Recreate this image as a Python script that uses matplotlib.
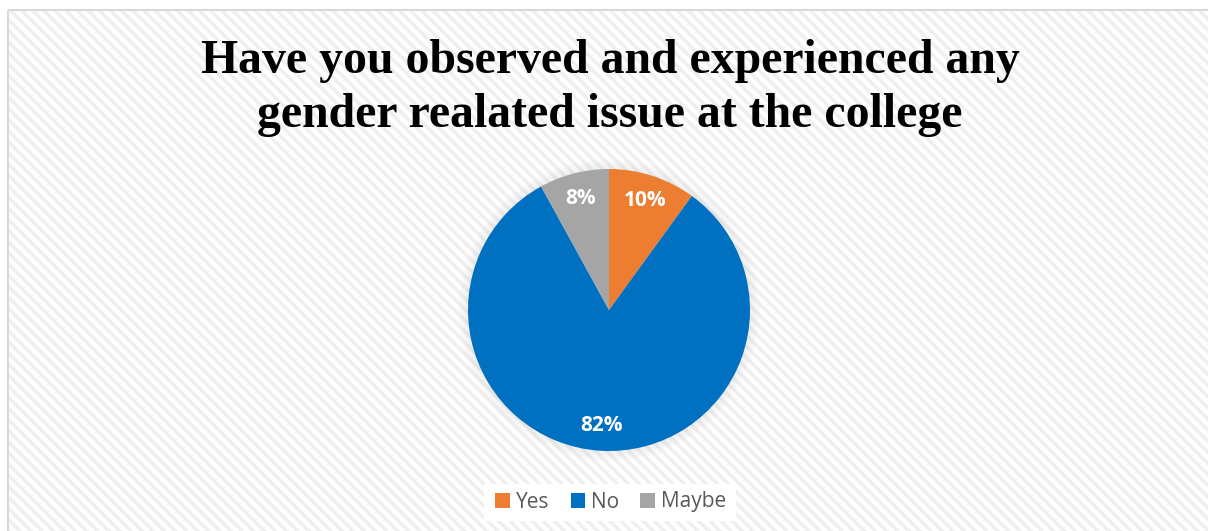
import matplotlib.pyplot as plt
from matplotlib.patches import Rectangle, Circle

# Survey answers
labels = ['Yes', 'No', 'Maybe']
shares = [10, 82, 8]
colors = ['#ED7D31', '#0070C0', '#A5A5A5']

W, H = 1208, 531
fig = plt.figure(figsize=(W / 100, H / 100), dpi=100)
fig.patch.set_facecolor('white')

# background panel with faint diagonal stripes
bg = fig.add_axes([0, 0, 1, 1])
bg.set_xlim(0, W)
bg.set_ylim(H, 0)
bg.axis('off')
plt.rcParams['hatch.linewidth'] = 2.5
bg.add_patch(Rectangle((8, 10), W, H, facecolor='white', edgecolor='#efefef',
                       hatch='\\\\\\', lw=0))
bg.add_patch(Rectangle((8, 10), W, H, facecolor='none', edgecolor='#d9d9d9', lw=1.5))

# soft shadow around the pie
for i in range(4):
    bg.add_patch(Circle((609, 310), 141 + 10 - i * 2.5, color='#9a9a9a', alpha=0.03, lw=0))

bg.text(610, 61, 'Have you observed and experienced any', ha='center', va='center',
        family='Liberation Serif', fontweight='bold', fontsize=34.4)
bg.text(610, 115, 'gender realated issue at the college', ha='center', va='center',
        family='Liberation Serif', fontweight='bold', fontsize=34.4)

# legend box
bg.add_patch(Rectangle((484, 484), 252, 37, facecolor='white', lw=0))

r = 141
ax = fig.add_axes([(609 - r) / W, (H - 310 - r) / H, 2 * r / W, 2 * r / H])
wedges, texts, autotexts = ax.pie(shares, colors=colors, startangle=90, counterclock=False,
                                  autopct='%d%%', pctdistance=0.82, radius=1,
                                  wedgeprops=dict(linewidth=0))
for t in autotexts:
    t.set_color('white')
    t.set_fontsize(15)
    t.set_fontweight('bold')
    t.set_family('Open Sans')
ax.set_xlim(-1, 1)
ax.set_ylim(-1, 1)
ax.set_aspect('equal')

leg = fig.legend(wedges, labels, loc='center', bbox_to_anchor=(611 / W, 1 - 502 / H),
                 ncol=3, frameon=False, handlelength=0.7, handleheight=0.7,
                 handletextpad=0.3, columnspacing=1.0,
                 prop={'family': 'Open Sans', 'size': 15})
for t in leg.get_texts():
    t.set_color('#595959')

fig.savefig('out.png', dpi=100)
